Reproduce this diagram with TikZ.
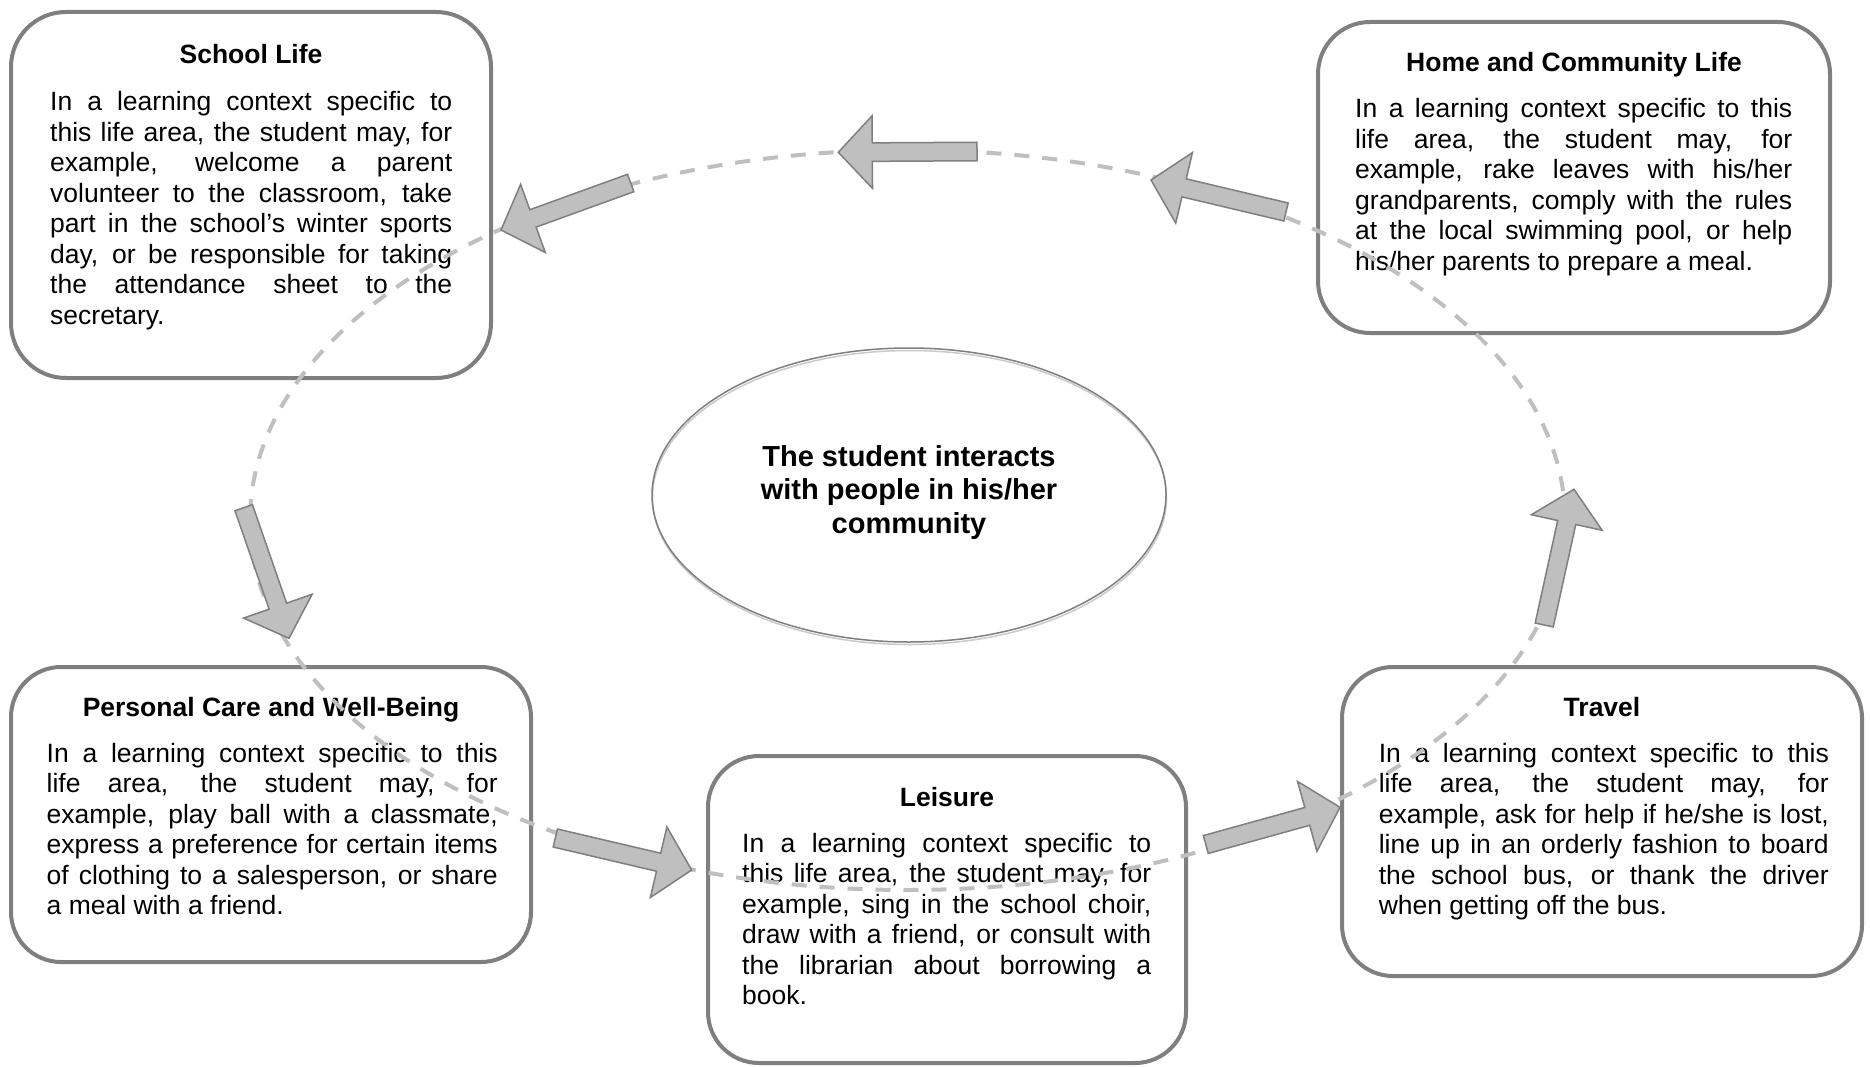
\documentclass[tikz,border=0pt]{standalone}
\usepackage{fontspec}
\setmainfont{Liberation Sans}
\usetikzlibrary{calc,shapes.geometric}
\definecolor{boxgray}{HTML}{7F7F7F}
\definecolor{dashgray}{HTML}{BFBFBF}
\definecolor{arrowfill}{HTML}{BFBFBF}
\definecolor{shadowgray}{HTML}{CACACA}
\newcommand\bodyfont{\fontsize{26.5}{30.5}\selectfont}
\newcommand\titlefont{\fontsize{26.5}{30.5}\selectfont\bfseries}
\newcommand\jl[1]{\hbox to \hsize{#1}}
\newcommand\lastl[1]{\hbox{#1}}
\newcommand\cl[1]{\hbox to \hsize{\hfil#1\hfil}}
\newcommand\bodytext[2]{\vtop{\hsize=#1pt\bodyfont #2}}
\newcommand\blockarrow[2]{%
  \coordinate (#1-b) at ($(#2)!34pt!(#1)$);
  \draw[blockarr] ($(#1)!9.25pt!90:(#2)$) -- ($(#1-b)!9.25pt!-90:(#1)$)
    -- ($(#1-b)!36.25pt!-90:(#1)$) -- (#2) -- ($(#1-b)!36.25pt!90:(#1)$)
    -- ($(#1-b)!9.25pt!90:(#1)$) -- ($(#1)!9.25pt!-90:(#2)$) -- cycle;}
\tikzset{
  lifebox/.style={draw=boxgray, line width=4pt, fill=white, inner sep=0pt, rectangle},
  txt/.style={inner sep=0pt, anchor=base west},
  ttl/.style={inner sep=0pt, anchor=base, font=\titlefont},
  dashline/.style={draw=dashgray, line width=4pt, dash pattern=on 15pt off 13pt},
  blockarr/.style={fill=arrowfill, draw=boxgray, line width=1.5pt, line join=miter},
  centreell/.style={ellipse, inner sep=0pt, minimum width=514pt, minimum height=294pt, line width=1.5pt}
}
\begin{document}
\begin{tikzpicture}[x=1pt,y=-1pt]
\useasboundingbox[fill=white] (0,0) rectangle (1870,1067);

% boxes
\node[lifebox, rounded corners=55pt, minimum width=480pt, minimum height=366pt] (school) at (251,195) {};
\node[lifebox, rounded corners=52pt, minimum width=512pt, minimum height=311pt] (home) at (1574,177.5) {};
\node[lifebox, rounded corners=50pt, minimum width=520pt, minimum height=295pt] (personal) at (271,814.5) {};
\node[lifebox, rounded corners=51pt, minimum width=478pt, minimum height=307pt] (leisure) at (947,909.5) {};
\node[lifebox, rounded corners=51pt, minimum width=520pt, minimum height=309pt] (travel) at (1602,821.5) {};

% titles
\node[ttl] (schooltitle) at (251,64) {School Life};
\node[ttl] (hometitle) at (1574,72) {Home and Community Life};
\node[ttl] (personaltitle) at (271,716) {Personal Care and Well-Being};
\node[ttl] (leisuretitle) at (947,806) {Leisure};
\node[ttl] (traveltitle) at (1602,716) {Travel};

% body texts
\node[txt] (schoolbody) at (50,111) {\bodytext{402}{%
\jl{In a learning context specific to}
\jl{this life area, the student may, for}
\jl{example, welcome a parent}
\jl{volunteer to the classroom, take}
\jl{part in the school’s winter sports}
\jl{day, or be responsible for taking}
\jl{the attendance sheet to the}
\lastl{secretary.}}};

\node[txt] (homebody) at (1355,118) {\bodytext{437}{%
\jl{In a learning context specific to this}
\jl{life area, the student may, for}
\jl{example, rake leaves with his/her}
\jl{grandparents, comply with the rules}
\jl{at the local swimming pool, or help}
\lastl{his/her parents to prepare a meal.}}};

\node[txt] (personalbody) at (46.5,762) {\bodytext{451}{%
\jl{In a learning context specific to this}
\jl{life area, the student may, for}
\jl{example, play ball with a classmate,}
\jl{express a preference for certain items}
\jl{of clothing to a salesperson, or share}
\lastl{a meal with a friend.}}};

\node[txt] (leisurebody) at (742,852) {\bodytext{409}{%
\jl{In a learning context specific to}
\jl{this life area, the student may, for}
\jl{example, sing in the school choir,}
\jl{draw with a friend, or consult with}
\jl{the librarian about borrowing a}
\lastl{book.}}};

\node[txt] (travelbody) at (1378.6,762) {\bodytext{450}{%
\jl{In a learning context specific to this}
\jl{life area, the student may, for}
\jl{example, ask for help if he/she is lost,}
\jl{line up in an orderly fashion to board}
\jl{the school bus, or thank the driver}
\lastl{when getting off the bus.}}};

% dashed cycle
\draw[dashline] (907.5,520) ellipse [x radius=657.5, y radius=370];

% centre ellipse
\node[centreell, draw=shadowgray] (centreshadow) at (909.5,497.5) {};
\node[centreell, draw=boxgray] (centre) at (909,495) {};
\node[inner sep=0pt, anchor=base] (centretext) at (909,466) {\vtop{\hsize=400pt\fontsize{29}{33.5}\selectfont\bfseries
\cl{The student interacts}\cl{with people in his/her}\cl{community}}};

% block arrows
\coordinate (a1t) at (630.7,183);   \coordinate (a1h) at (501,230);
\coordinate (a2t) at (977,151.5);   \coordinate (a2h) at (838.3,152.3);
\coordinate (a3t) at (1286,212);    \coordinate (a3h) at (1151,180);
\coordinate (a4t) at (1544.2,625);  \coordinate (a4h) at (1574,489.3);
\coordinate (a5t) at (1205.8,844.5);\coordinate (a5h) at (1340,807.3);
\coordinate (a6t) at (555.3,838);   \coordinate (a6h) at (691.7,870);
\coordinate (a7t) at (243.7,507.7); \coordinate (a7h) at (289,638.3);
\blockarrow{a1t}{a1h}
\blockarrow{a2t}{a2h}
\blockarrow{a3t}{a3h}
\blockarrow{a4t}{a4h}
\blockarrow{a5t}{a5h}
\blockarrow{a6t}{a6h}
\blockarrow{a7t}{a7h}
\end{tikzpicture}
\end{document}
